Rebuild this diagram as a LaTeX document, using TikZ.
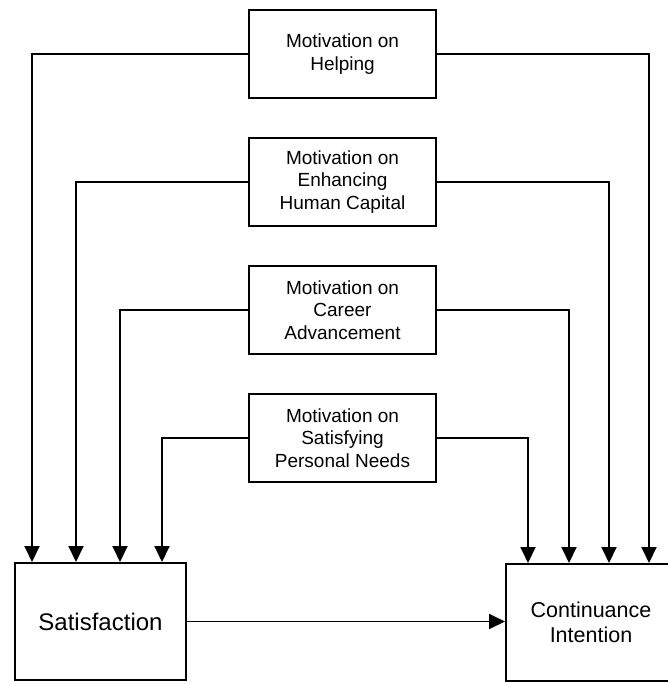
\documentclass[tikz,border=0pt]{standalone}
\usepackage{fontspec}
\setmainfont{Liberation Sans}
\usetikzlibrary{arrows.meta}
\begin{document}
\begin{tikzpicture}[x=1pt,y=-1pt,
  motive/.style={draw,line width=2pt,minimum width=187pt,minimum height=88pt,
    inner sep=0pt,align=center,font=\fontsize{19}{22.5}\selectfont},
  outcome/.style={draw,line width=2pt,inner sep=0pt,align=center},
  link/.style={line width=1.9pt,-{Triangle[length=16pt,width=15pt]}}]
\useasboundingbox (0,0) rectangle (667,682);

% motivation boxes
\node[motive] (help) at (342.5,54)  {Motivation on\\Helping};
\node[motive] (enh)  at (342.5,182) {Motivation on\\Enhancing\\Human Capital};
\node[motive] (car)  at (342.5,310) {Motivation on\\Career\\Advancement};
\node[motive] (need) at (342.5,438) {Motivation on\\Satisfying\\Personal Needs};

% outcome boxes
\node[outcome,minimum width=171pt,minimum height=117pt,
      font=\fontsize{24}{28}\selectfont] (sat) at (100.5,621.5) {Satisfaction};
\node[outcome,minimum width=170pt,minimum height=117pt,anchor=north west,
      font=\fontsize{21.5}{24.5}\selectfont] (cont) at (505,563) {Continuance\\Intention};

% links into Satisfaction
\draw[link] (help.west) -| ([xshift=18pt]sat.north west);
\draw[link] (enh.west)  -| ([xshift=62pt]sat.north west);
\draw[link] (car.west)  -| ([xshift=106pt]sat.north west);
\draw[link] (need.west) -| ([xshift=148pt]sat.north west);

% links into Continuance Intention
\draw[link] (help.east) -| ([xshift=144pt]cont.north west);
\draw[link] (enh.east)  -| ([xshift=104pt]cont.north west);
\draw[link] (car.east)  -| ([xshift=64pt]cont.north west);
\draw[link] (need.east) -| ([xshift=23pt]cont.north west);

% Satisfaction -> Continuance Intention
\draw[link] (sat.east) -- (sat.east -| cont.west);
\end{tikzpicture}
\end{document}
